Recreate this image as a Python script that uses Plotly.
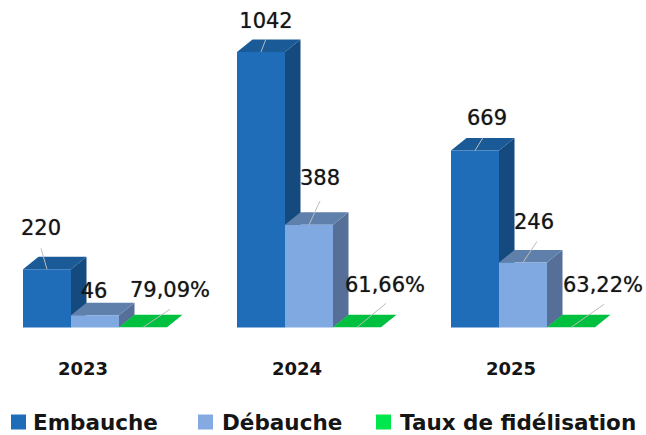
import plotly.graph_objects as go

years = ["2023", "2024", "2025"]
embauche = [220, 1042, 669]
debauche = [46, 388, 246]
fidelisation = [0.7909, 0.6166, 0.6322]

W, H = 646, 435
BASE_PX, PX_PER_UNIT = 327.5, 0.2645
LEFT_PX, GROUP_PX, BAR_PX = 23, 214, 48
DEPTH_X_PX, DEPTH_Y_PX = 15.5, 12.5
BOTTOM_PX = 350
SHADOW = "0 0 1px rgba(0,0,0,0.55)"

bar_w = BAR_PX / GROUP_PX
dx = DEPTH_X_PX / GROUP_PX
dy = DEPTH_Y_PX / PX_PER_UNIT
px_x = lambda px: px / GROUP_PX
px_y = lambda px: px / PX_PER_UNIT

series = [
    dict(name="Embauche", vals=embauche, front="#1f6db8", side="#154a7e", top="#1a5a96", key="#1f6db8",
         key_px=11, text_px=33),
    dict(name="Débauche", vals=debauche, front="#7fa9e0", side="#566f98", top="#6080ac", key="#85aae2",
         key_px=198, text_px=222),
    dict(name="Taux de fidélisation", vals=fidelisation, front="#00c040", side="#00a035", top="#00c040", key="#00e64d",
         key_px=376, text_px=400),
]

# Per-series, per-year pixel offsets from the bar's front-top centre: (dx, dy up)
label_offsets = [
    [(-6, 40), (5, 29), (12, 31)],
    [(-1, 23), (11, 45), (11, 39)],
    [(27, 36), (28, 41), (32, 41)],
]
leader_offsets = [
    [(-6, 21), (5, 13), (8, 13)],
    [(0, 0), (11, 24), (14, 21)],
    [(27, 18), (29, 24), (33, 23)],
]

fig = go.Figure()

def poly(xs_ys_list, color):
    xs, ys = [], []
    for pts in xs_ys_list:
        xs += [p[0] for p in pts] + [pts[0][0], None]
        ys += [p[1] for p in pts] + [pts[0][1], None]
    fig.add_trace(go.Scatter(x=xs, y=ys, mode="lines", fill="toself", fillcolor=color,
                             line=dict(width=0, color=color), hoverinfo="skip", showlegend=False))

for s_i, s in enumerate(series):
    fronts, sides, tops = [], [], []
    for i, v in enumerate(s["vals"]):
        x0 = i + s_i * bar_w
        x1 = x0 + bar_w
        fronts.append([(x0, 0), (x1, 0), (x1, v), (x0, v)])
        sides.append([(x1, 0), (x1 + dx, dy), (x1 + dx, v + dy), (x1, v)])
        tops.append([(x0, v), (x1, v), (x1 + dx, v + dy), (x0 + dx, v + dy)])
    poly(sides, s["side"])
    poly(tops, s["top"])
    poly(fronts, s["front"])

for s_i, s in enumerate(series):
    lx, ly, tx, ty, texts = [], [], [], [], []
    for i, v in enumerate(s["vals"]):
        cx = i + s_i * bar_w + bar_w / 2
        (ldx, ldy), (tdx, tdy) = leader_offsets[s_i][i], label_offsets[s_i][i]
        lx += [cx, cx + px_x(ldx), None]
        ly += [v, v + px_y(ldy), None]
        tx.append(cx + px_x(tdx))
        ty.append(v + px_y(tdy))
        texts.append(f"{v * 100:.2f}".replace(".", ",") + "%" if s_i == 2 else str(v))
    fig.add_trace(go.Scatter(x=lx, y=ly, mode="lines", line=dict(color="#bcbcbc", width=1),
                             hoverinfo="skip", showlegend=False))
    fig.add_trace(go.Scatter(x=tx, y=ty, mode="text", text=texts, textposition="middle center",
                             textfont=dict(family="DejaVu Sans", size=21, color="#151515", shadow=SHADOW),
                             cliponaxis=False, hoverinfo="skip", showlegend=False))

LEGEND_Y_PX = 422
shapes, annotations = [], []
for s in series:
    shapes.append(dict(type="rect", xref="paper", yref="paper", line=dict(width=0), fillcolor=s["key"],
                       x0=s["key_px"] / W, x1=(s["key_px"] + 15) / W,
                       y0=(BOTTOM_PX - LEGEND_Y_PX - 7.5) / (BOTTOM_PX),
                       y1=(BOTTOM_PX - LEGEND_Y_PX + 7.5) / (BOTTOM_PX)))
    annotations.append(dict(text=s["name"], xref="paper", yref="paper", showarrow=False,
                            x=s["text_px"] / W, y=(BOTTOM_PX - LEGEND_Y_PX) / BOTTOM_PX,
                            xanchor="left", yanchor="middle", xshift=-2,
                            font=dict(family="DejaVu Sans", size=21.5, color="#151515", weight="bold")))

fig.update_layout(
    width=W, height=H, autosize=False,
    margin=dict(l=0, r=0, t=0, b=H - BOTTOM_PX),
    showlegend=False,
    shapes=shapes, annotations=annotations,
    paper_bgcolor="white", plot_bgcolor="white",
    xaxis=dict(range=[-LEFT_PX / GROUP_PX, (W - LEFT_PX) / GROUP_PX], showgrid=False, zeroline=False,
               showline=False, tickmode="array",
               tickvals=[i + (83 - LEFT_PX) / GROUP_PX for i in range(3)], ticktext=years,
               ticks="outside", ticklen=2, tickcolor="rgba(0,0,0,0)",
               tickfont=dict(family="DejaVu Sans", size=18, color="#151515", weight="bold")),
    yaxis=dict(range=[(BASE_PX - BOTTOM_PX) / PX_PER_UNIT, BASE_PX / PX_PER_UNIT], visible=False),
)
fig.write_html("out.html", post_script="document.body.style.margin='0';",
               config=dict(displayModeBar=False))
